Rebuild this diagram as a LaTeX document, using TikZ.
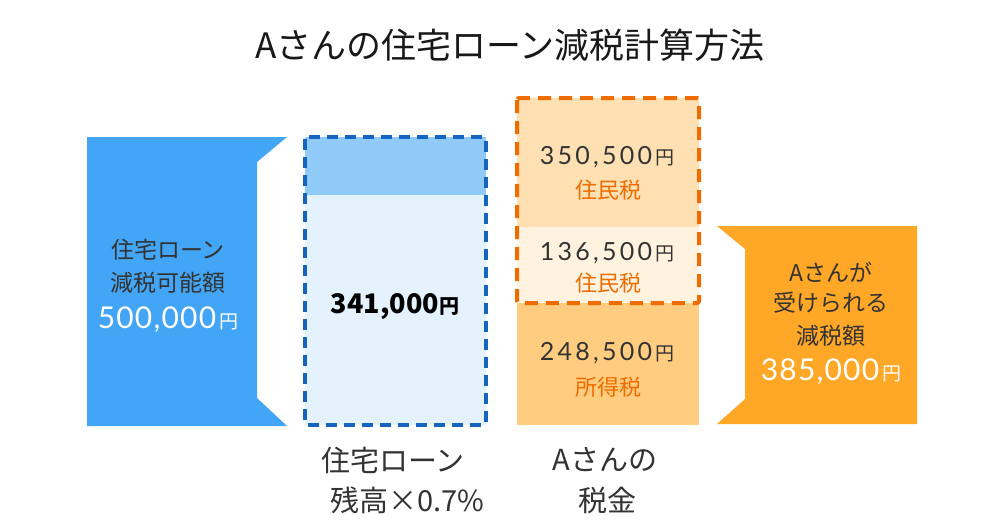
\documentclass[tikz,border=0pt]{standalone}
\usepackage{fontspec}
\setmainfont{Noto Sans CJK JP}
\newfontfamily\cjkfont{Noto Sans CJK JP}
\newfontfamily\numfont[LetterSpace=13]{Lato}
\newfontfamily\wnumfont[LetterSpace=4]{Lato}
\definecolor{lblue}{HTML}{42A5F5}
\definecolor{paleblue}{HTML}{E3F2FD}
\definecolor{midblue}{HTML}{90CAF9}
\definecolor{dblue}{HTML}{1565C0}
\definecolor{orA}{HTML}{FFE0B2}
\definecolor{orB}{HTML}{FFF3E0}
\definecolor{orC}{HTML}{FFCC80}
\definecolor{dorange}{HTML}{EF6C00}
\definecolor{rorange}{HTML}{FFA726}
\definecolor{txt}{HTML}{333333}
\newcommand{\yenmark}{\hspace{3pt}{\cjkfont\fontsize{19}{19}\selectfont 円}}
\newcommand{\yenbold}{{\cjkfont\fontsize{20}{20}\selectfont\bfseries 円}}
\tikzset{
  lbl/.style={inner sep=0pt, text=txt, font=\fontsize{23}{26}\selectfont},
  num/.style={inner sep=0pt, text=txt, font=\numfont\fontsize{25}{30}\selectfont},
  wnum/.style={inner sep=0pt, text=white, font=\wnumfont\fontsize{30}{32}\selectfont},
  otx/.style={inner sep=0pt, text=dorange, font=\fontsize{22}{26}\selectfont},
  bottomlbl/.style={inner sep=0pt, text=txt, font=\fontsize{29}{34}\selectfont},
}
\begin{document}
\begin{tikzpicture}[x=1pt,y=-1pt]
\useasboundingbox (0,0) rectangle (1000,531);
\fill[white] (0,0) rectangle (1000,531);
% title
\node[inner sep=0pt, text=black!90, font=\fontsize{35}{40}\selectfont] (title) at (510,45) {Aさんの住宅ローン減税計算方法};
% left shape
\fill[lblue] (87,137) -- (287,137) -- (257,162) -- (257,398) -- (287,426) -- (87,426) -- cycle;
\node[lbl] (l1) at (168,250) {住宅ローン};
\node[lbl] (l2) at (168,283) {減税可能額};
\node[wnum] (l3) at (168,320) {500,000\yenmark};
% middle box
\fill[paleblue] (305,137) rectangle (486,425);
\fill[midblue] (305,137) rectangle (486,195);
\draw[dblue, line width=3.5pt, dash pattern=on 11pt off 7pt, rounded corners=2pt] (305,137) rectangle (486,425);
\node[inner sep=0pt, text=black, font=\fontsize{27}{30}\selectfont\bfseries] (m1) at (395,307) {341,000\yenbold};
% orange column
\fill[orA] (517,98) rectangle (699,227);
\fill[orB] (517,227) rectangle (699,303);
\fill[orC] (517,303) rectangle (699,425);
\draw[dorange, line width=4pt, dash pattern=on 13pt off 8pt, rounded corners=2pt] (517,98) rectangle (699,303);
\node[num] (o1) at (607,157) {350,500\yenmark};
\node[otx] (o2) at (608,190) {住民税};
\node[num] (o3) at (607,253) {136,500\yenmark};
\node[otx] (o4) at (608,283) {住民税};
\node[num] (o5) at (607,353) {248,500\yenmark};
\node[otx] (o6) at (608,387) {所得税};
% right shape
\fill[rorange] (717,226) -- (917,226) -- (917,424) -- (717,424) -- (745,399) -- (745,249) -- cycle;
\node[lbl] (r1) at (831,272) {Aさんが};
\node[lbl] (r2) at (831,303) {受けられる};
\node[lbl] (r3) at (831,336) {減税額};
\node[wnum] (r4) at (831,372) {385,000\yenmark};
% bottom labels
\node[bottomlbl] (b1) at (393,460) {住宅ローン};
\node[bottomlbl] (b2) at (407,500) {残高×0.7\%};
\node[bottomlbl] (b3) at (605,460) {Aさんの};
\node[bottomlbl] (b4) at (607,500) {税金};
\end{tikzpicture}
\end{document}
